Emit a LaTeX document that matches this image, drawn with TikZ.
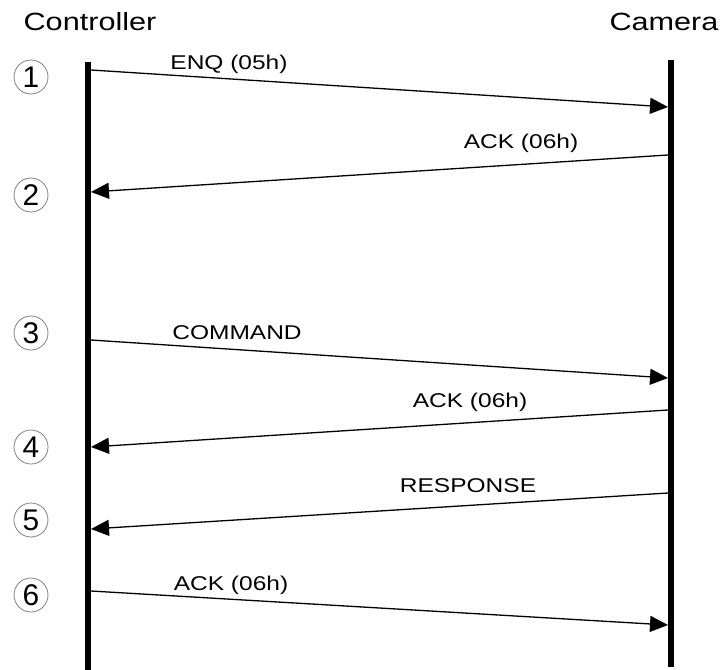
\documentclass[tikz,border=0pt]{standalone}
\usepackage{fontspec}
\setmainfont{Liberation Sans}[FakeStretch=1.23]
\newfontfamily\numfont{Liberation Sans}
\usetikzlibrary{positioning,arrows.meta}
\tikzset{
	lifeline/.style={line width=5.5bp},
	msg/.style={-{Triangle[length=18bp,width=16bp]},line width=1.3bp},
	party/.style={font=\fontsize{25}{30}\selectfont},
	msglabel/.style={font=\fontsize{20}{24}\selectfont,inner sep=0pt},
	stepnum/.style={circle,draw=gray,line width=0.8bp,inner sep=0pt,minimum size=34bp,
		font=\numfont\fontsize{30}{30}\selectfont}
}

\begin{document}
\begin{tikzpicture}[x=1bp,y=-1bp]
		\useasboundingbox (0,0) rectangle (724,670);
		
		% participants
		\node[party] (ctrl) at (90,22) {Controller};
		\node[party] (cam) at (664,22) {Camera};
		
		\coordinate (ctop) at (88,62);
		\coordinate (cbot) at (88,670);
		\coordinate (mtop) at (671,60);
		\coordinate (mbot) at (671,667);
		\draw[lifeline] (ctop) -- (cbot);
		\draw[lifeline] (mtop) -- (mbot);
		
		% message ends
		\coordinate (c1) at (91,70);   \coordinate (m1) at (668,107);
		\coordinate (m2) at (668,155); \coordinate (c2) at (91,192);
		\coordinate (c3) at (91,340);  \coordinate (m3) at (668,378);
		\coordinate (m4) at (668,410); \coordinate (c4) at (91,447);
		\coordinate (m5) at (668,493); \coordinate (c5) at (91,529);
		\coordinate (c6) at (91,591);  \coordinate (m6) at (668,625);
		
		\path[msg] (c1) edge (m1);
		\path[msg] (m2) edge (c2);
		\path[msg] (c3) edge (m3);
		\path[msg] (m4) edge (c4);
		\path[msg] (m5) edge (c5);
		\path[msg] (c6) edge (m6);
		
		\node[msglabel] (l1) at (229,64) {ENQ (05h)};
		\node[msglabel] (l2) at (521,143) {ACK (06h)};
		\node[msglabel] (l3) at (237,333) {COMMAND};
		\node[msglabel] (l4) at (470,402) {ACK (06h)};
		\node[msglabel] (l5) at (468,486) {RESPONSE};
		\node[msglabel] (l6) at (231,585) {ACK (06h)};
		
		% step numbers
		\node[stepnum] (s1) at (31,77) {1};
		\node[stepnum] (s2) at (31,195) {2};
		\node[stepnum] (s3) at (31,333) {3};
		\node[stepnum] (s4) at (31,447) {4};
		\node[stepnum] (s5) at (31,520) {5};
		\node[stepnum] (s6) at (31,595) {6};
		\end{tikzpicture}
\end{document}
